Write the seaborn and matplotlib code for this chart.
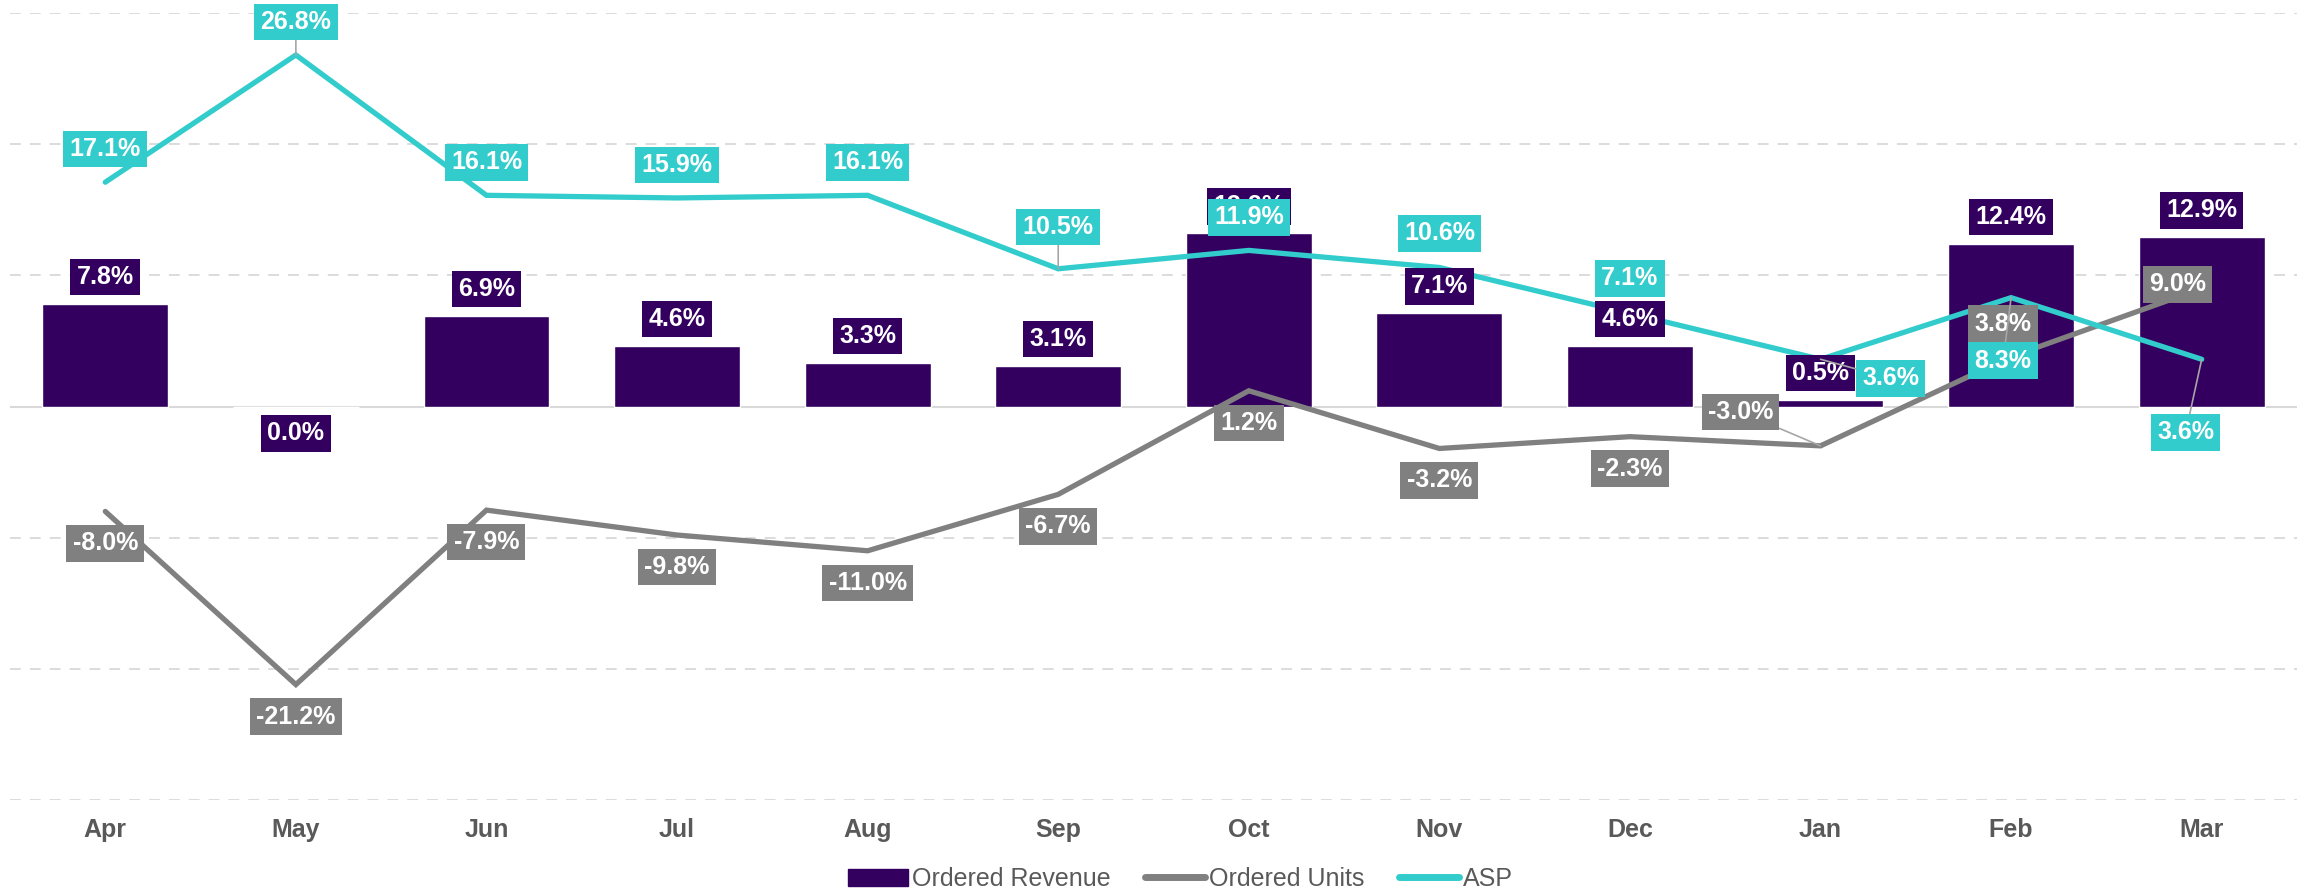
import numpy as np
import pandas as pd
import seaborn as sns
import matplotlib.pyplot as plt
from matplotlib.patches import Patch
from matplotlib.lines import Line2D

# ---- data ----
months = ["Apr", "May", "Jun", "Jul", "Aug", "Sep", "Oct", "Nov", "Dec", "Jan", "Feb", "Mar"]
revenue = [7.8, 0.0, 6.9, 4.6, 3.3, 3.1, 13.2, 7.1, 4.6, 0.5, 12.4, 12.9]
units = [-8.0, -21.2, -7.9, -9.8, -11.0, -6.7, 1.2, -3.2, -2.3, -3.0, 3.8, 9.0]
asp = [17.1, 26.8, 16.1, 15.9, 16.1, 10.5, 11.9, 10.6, 7.1, 3.6, 8.3, 3.6]

# label offsets in pixels (dx, dy) and whether a leader line is drawn
units_off = [(0, -32)] * 9 + [(-80, 34), (-8, 33), (-24, 4)]
units_lead = [False] * 9 + [True, False, False]
asp_off = [(0, 33), (0, 33), (0, 33), (0, 33), (0, 33), (0, 42), (0, 33), (0, 34),
           (0, 35), (70, -19), (-8, -63), (-16, -73)]
asp_lead = [False, True, False, False, False, True, False, False, False, True, True, True]

PURPLE = "#34005F"
GRAY = "#808080"
CYAN = "#33CCCC"
TXT = "#595959"

df = pd.DataFrame({"month": months, "pos": np.arange(len(months)),
                   "revenue": revenue, "units": units, "asp": asp})

sns.set_style("white")
plt.rcParams["font.family"] = ["Liberation Sans", "DejaVu Sans"]

fig = plt.figure(figsize=(23.1, 8.91), dpi=100)
ax = fig.add_axes([10 / 2310, 91 / 891, 2287 / 2310, 787 / 891])

sns.barplot(data=df, x="pos", y="revenue", color=PURPLE, width=0.66,
            saturation=1, ax=ax, zorder=2, native_scale=True)
sns.lineplot(data=df, x="pos", y="units", color=GRAY, lw=3.8, ax=ax, zorder=3,
             solid_capstyle="round", solid_joinstyle="miter")
sns.lineplot(data=df, x="pos", y="asp", color=CYAN, lw=3.8, ax=ax, zorder=4,
             solid_capstyle="round", solid_joinstyle="miter")

ax.set_xlim(-0.5, len(months) - 0.5)
ax.set_ylim(-30, 30)
for y in [-30, -20, -10, 10, 20, 30]:
    ax.axhline(y, color="#D9D9D9", lw=1.3, ls=(0, (6, 5)), zorder=0)
ax.axhline(0, color="#D9D9D9", lw=1.5, zorder=1)
for s in ax.spines.values():
    s.set_visible(False)
ax.set_yticks([])
ax.set_xticks(df["pos"])
ax.set_xticklabels(months, fontsize=18, fontweight="bold", color=TXT)
ax.tick_params(axis="x", length=0, pad=13)
ax.set_xlabel("")
ax.set_ylabel("")


def tag(x, y, text, fc, dx, dy, lead, z):
    kw = dict(xy=(x, y), xytext=(dx, dy), textcoords="offset pixels",
              ha="center", va="center", color="white", fontsize=18,
              fontweight="bold", zorder=z,
              bbox=dict(boxstyle="square,pad=0.25", fc=fc, ec="none"))
    if lead:
        kw["arrowprops"] = dict(arrowstyle="-", color="#A6A6A6", lw=1.2,
                                shrinkA=0, shrinkB=0)
    ax.annotate(text, **kw)


for i, v in enumerate(revenue):
    tag(i, v, f"{v:.1f}%", PURPLE, 0, 27 if v > 0 else -27, False, 5)
for i, v in enumerate(units):
    dx, dy = units_off[i]
    tag(i, v, f"{v:.1f}%", GRAY, dx, dy, units_lead[i], 6)
for i, v in enumerate(asp):
    dx, dy = asp_off[i]
    tag(i, v, f"{v:.1f}%", CYAN, dx, dy, asp_lead[i], 7)

handles = [Patch(color=PURPLE),
           Line2D([], [], color=GRAY, lw=5, solid_capstyle="round"),
           Line2D([], [], color=CYAN, lw=5, solid_capstyle="round")]
leg = fig.legend(handles, ["Ordered Revenue", "Ordered Units", "ASP"],
                 loc="center", bbox_to_anchor=(0.511, 12 / 891), ncol=3,
                 frameon=False, fontsize=18, handlelength=2.4,
                 handletextpad=0.15, columnspacing=1.4)
for t in leg.get_texts():
    t.set_color(TXT)

fig.savefig("out.png", dpi=100)
